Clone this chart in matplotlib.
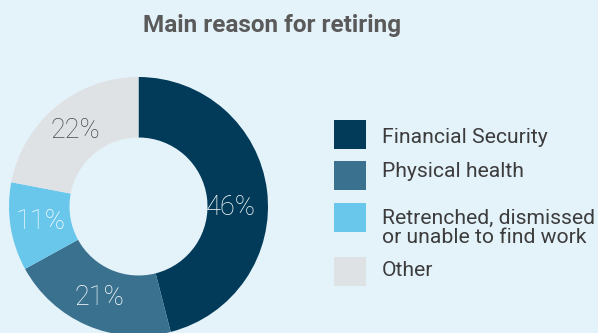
import matplotlib
matplotlib.use("Agg")
import matplotlib.pyplot as plt
from matplotlib.patches import Rectangle
import numpy as np

# ---- data ----
categories = ["Financial Security", "Physical health",
              "Retrenched, dismissed\nor unable to find work", "Other"]
values = [46, 21, 11, 22]
colors = ["#023B59", "#39718F", "#69C7EC", "#DFE2E4"]
label_colors = ["white", "white", "white", "#4A4A4A"]
title = "Main reason for retiring"

BG = "#E4F2FA"
W, H = 598, 333
fig = plt.figure(figsize=(W / 100, H / 100), dpi=100, facecolor=BG)

# pie axes: center (138.5, 206.5) px from top-left, radius 129.5 px
cx, cy, R = 138.5, 206.5, 129.5
ax = fig.add_axes([(cx - R) / W, (H - cy - R) / H, 2 * R / W, 2 * R / H])
ring = (R - 69) / R
wedges, texts, autotexts = ax.pie(
    values, colors=colors, startangle=90, counterclock=False, radius=1,
    wedgeprops=dict(width=ring, edgecolor="none"),
    autopct=lambda p: f"{p:.0f}%", pctdistance=0.765,
    textprops=dict(fontsize=19.5, family="Roboto", fontweight="light"))
ax.set_xlim(-1, 1)
ax.set_ylim(-1, 1)
ax.set_aspect("auto")
ax.axis("off")
for t, c in zip(autotexts, label_colors):
    t.set_color(c)
    t.set_clip_on(False)
for w in wedges:
    w.set_clip_on(False)
# the largest label sits nearer the horizontal axis
autotexts[0].set_position((0.71, -0.01))

# overlay axes in pixel coordinates for title + legend
ov = fig.add_axes([0, 0, 1, 1])
ov.set_xlim(0, W)
ov.set_ylim(H, 0)
ov.axis("off")
ov.patch.set_alpha(0)

ov.text(272.5, 32, title, ha="center", va="baseline", fontsize=17.5,
        family="Roboto", fontweight="bold", color="#5A5A5A")

sq_tops = [120, 161, 203, 257]
baselines = [143, 177, 243, 276]
for c, lab, t, b in zip(colors, categories, sq_tops, baselines):
    ov.add_patch(Rectangle((334, t), 32, 29, facecolor=c, edgecolor="none"))
    ov.text(382, b, lab, ha="left", va="baseline", fontsize=15.2,
            family="Roboto", color="#3C3C3C", linespacing=1.02)

fig.savefig("out.png", dpi=100, facecolor=BG)
